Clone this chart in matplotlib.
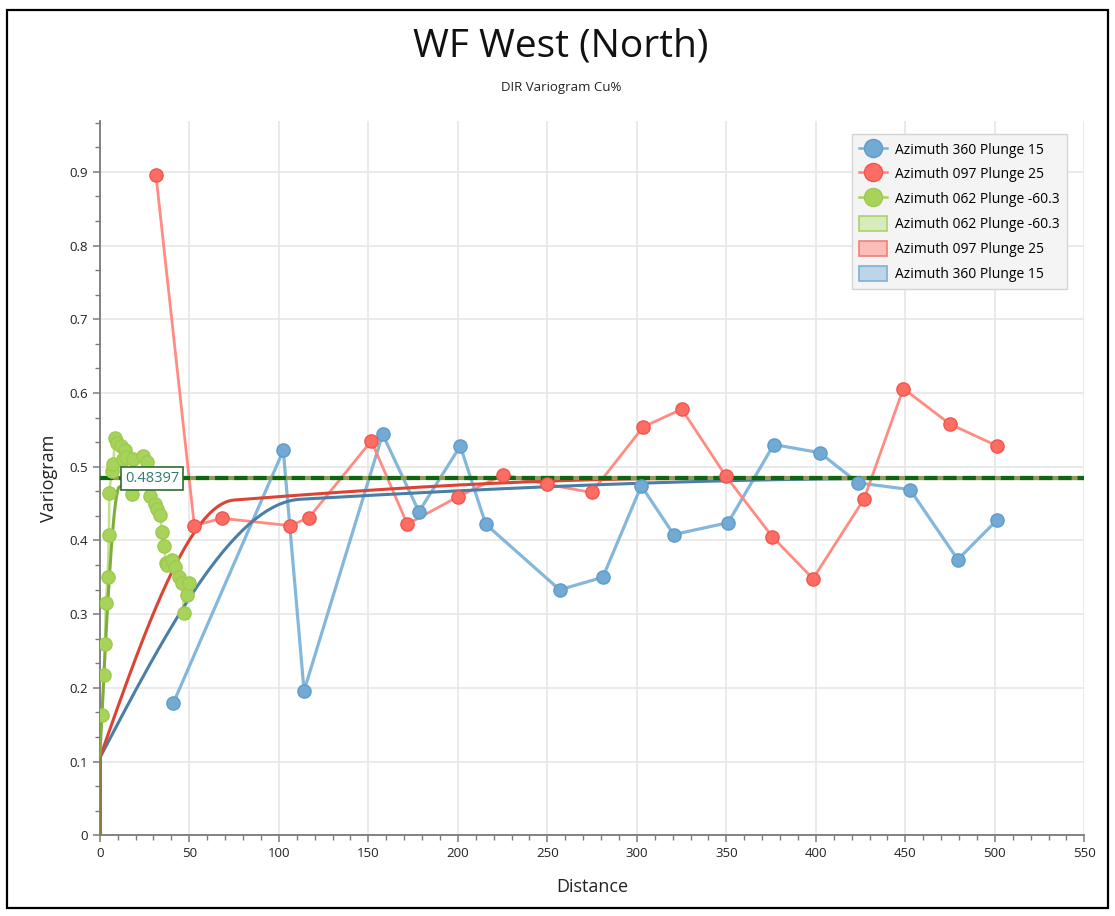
import numpy as np
import matplotlib
matplotlib.use("Agg")
import matplotlib.pyplot as plt
from matplotlib.ticker import MultipleLocator
from matplotlib.lines import Line2D
from matplotlib.patches import Patch, Rectangle

plt.rcParams['font.family'] = ['Open Sans', 'DejaVu Sans']

# Experimental variogram points: Azimuth 360 Plunge 15
az360_lag = [41.0, 102.5, 114.1, 158.0, 178.3, 201.4, 215.6, 256.9, 281.0, 302.5,
             320.6, 351.0, 376.5, 402.2, 423.6, 452.6, 479.3, 501.4]
az360_gam = [0.179, 0.522, 0.196, 0.544, 0.439, 0.528, 0.422, 0.333, 0.350, 0.474,
             0.408, 0.424, 0.530, 0.519, 0.478, 0.469, 0.374, 0.428]

# Experimental variogram points: Azimuth 097 Plunge 25
az097_lag = [31.4, 52.8, 68.1, 106.3, 116.9, 151.7, 171.8, 199.9, 225.4, 249.7,
             274.8, 303.6, 325.1, 349.8, 375.7, 398.4, 426.9, 448.9, 474.8, 501.4]
az097_gam = [0.895, 0.420, 0.430, 0.420, 0.431, 0.535, 0.422, 0.459, 0.489, 0.476,
             0.465, 0.554, 0.578, 0.487, 0.405, 0.348, 0.456, 0.606, 0.558, 0.528]

# Experimental variogram points: Azimuth 062 Plunge -60.3
az062_lag = [1.4, 2.3, 2.9, 3.3, 4.4, 5.1, 5.3, 6.6, 7.5, 8.5, 9.4, 11.7, 13.0,
             14.1, 14.6, 17.8, 18.7, 24.3, 26.2, 28.0, 30.8, 31.8, 33.6, 34.9,
             36.0, 36.8, 37.4, 40.5, 42.0, 44.2, 45.7, 47.2, 48.5, 49.8]
az062_gam = [0.163, 0.217, 0.260, 0.315, 0.350, 0.407, 0.464, 0.494, 0.503, 0.539,
             0.532, 0.528, 0.510, 0.523, 0.513, 0.463, 0.510, 0.514, 0.507, 0.460,
             0.449, 0.442, 0.435, 0.412, 0.392, 0.370, 0.367, 0.374, 0.364, 0.351,
             0.342, 0.302, 0.326, 0.342]

# Fitted models: nugget plus nested spherical structures (sill, range)
nugget = 0.105
sill_total = 0.48397
model_062 = [(0.36, 11.0), (0.01897, 40.0)]
model_097 = [(0.335, 75.0), (0.04397, 330.0)]
model_360 = [(0.3346, 112.0), (0.04437, 450.0)]

series_names = ["Azimuth 360 Plunge 15", "Azimuth 097 Plunge 25", "Azimuth 062 Plunge -60.3"]


def spherical(h, structures):
    g = np.full_like(h, nugget)
    for c, a in structures:
        r = np.clip(h / a, 0, 1)
        g += c * (1.5 * r - 0.5 * r ** 3)
    g[h == 0] = 0.0
    return g


fig = plt.figure(figsize=(11.15, 9.16), dpi=100)
ax = fig.add_axes([0.0895, 0.0881, 0.8830, 0.7799])

# outer frame
fig.patches.append(Rectangle((0.0063, 0.0087), 0.9874, 0.980, transform=fig.transFigure,
                             fill=False, edgecolor='black', linewidth=1.6, zorder=10))

h = np.concatenate([[0.0], np.linspace(0.001, 550, 2000)])

blue_pt, blue_edge, blue_ln, blue_model = '#72aad4', '#5e9ccb', '#7db3da', '#4a7ea6'
red_pt, red_edge, red_ln, red_model = '#fd6d64', '#f2544b', '#ff857c', '#dc4335'
green_pt, green_edge, green_model = '#a7d35a', '#9ccb4d', '#7fad3c'

# experimental series
ax.plot(az360_lag, az360_gam, '-', color=blue_ln, lw=2.3, alpha=0.95, zorder=3)
ax.plot(az360_lag, az360_gam, 'o', ms=9.5, mfc=blue_pt, mec=blue_edge, mew=1.0, zorder=6)
ax.plot(az097_lag, az097_gam, '-', color=red_ln, lw=2.0, alpha=0.95, zorder=3)
ax.plot(az097_lag, az097_gam, 'o', ms=9.5, mfc=red_pt, mec=red_edge, mew=1.0, zorder=6)
ax.plot(az062_lag, az062_gam, '-', color=green_pt, lw=1.8, alpha=0.7, zorder=3)
ax.plot(az062_lag, az062_gam, 'o', ms=9.5, mfc=green_pt, mec=green_edge, mew=1.0, zorder=6)

# model curves
ax.plot(h, spherical(h, model_360), color=blue_model, lw=2.2, zorder=4)
ax.plot(h, spherical(h, model_097), color=red_model, lw=2.2, zorder=4)
ax.plot(h, spherical(h, model_062), color=green_model, lw=2.2, zorder=4.5)
ax.plot([0, 0], [0, nugget], color='#8c7d3c', lw=2.2, zorder=5)

# sill line, drawn above the model curves
ax.axhline(sill_total, color='#939a58', lw=3.0, zorder=5.2)
ax.axhline(sill_total, color='#0e6612', lw=3.0, ls=(0, (3.2, 1.4)), zorder=5.3)
ax.text(14.0, sill_total, f"{sill_total:.5f}", fontsize=10.5, color='#2f7d6a',
        va='center', ha='left', zorder=8,
        bbox=dict(boxstyle='square,pad=0.25', fc='white', ec='#2d6e2d', lw=1.2))

ax.set_xlim(0, 550)
ax.set_ylim(0, 0.969)
ax.xaxis.set_major_locator(MultipleLocator(50))
ax.xaxis.set_minor_locator(MultipleLocator(10))
ax.yaxis.set_major_locator(MultipleLocator(0.1))
ax.yaxis.set_minor_locator(MultipleLocator(0.1 / 3))
ax.set_yticks(np.arange(0, 0.95, 0.1))
ax.set_yticklabels(['0'] + [f"{v:.1f}" for v in np.arange(0.1, 0.95, 0.1)])

ax.grid(True, which='major', color='#e6e6e6', lw=1.2, zorder=0)
ax.set_axisbelow(True)
for s in ['top', 'right']:
    ax.spines[s].set_visible(False)
for s in ['left', 'bottom']:
    ax.spines[s].set_color('#7a7a7a')
    ax.spines[s].set_linewidth(1.3)
ax.tick_params(which='major', length=5, width=1.1, color='#7a7a7a', labelsize=9.5,
               labelcolor='#222222')
ax.tick_params(which='minor', length=3.5, width=1.0, color='#7a7a7a')

ax.set_xlabel("Distance", fontsize=13, color='#222222', labelpad=13)
ax.set_ylabel("Variogram", fontsize=13, color='#222222', labelpad=8)

fig.text(0.503, 0.949, "WF West (North)", fontsize=28, ha='center', va='center', color='#111111')
fig.text(0.503, 0.905, "DIR Variogram Cu%", fontsize=9.5, ha='center', va='center', color='#222222')

handles = [
    Line2D([], [], color=blue_ln, lw=1.8, marker='o', ms=13, mfc=blue_pt, mec=blue_edge),
    Line2D([], [], color=red_ln, lw=1.8, marker='o', ms=13, mfc=red_pt, mec=red_edge),
    Line2D([], [], color=green_pt, lw=1.8, marker='o', ms=13, mfc=green_pt, mec=green_edge),
    Patch(fc='#d7ebbc', ec='#a9d36a', lw=1.2),
    Patch(fc='#fcbdb8', ec='#f08078', lw=1.2),
    Patch(fc='#bcd5e8', ec='#7fb0d6', lw=1.2),
]
labels = [series_names[0], series_names[1], series_names[2],
          series_names[2], series_names[1], series_names[0]]
leg = ax.legend(handles, labels, loc='upper left', bbox_to_anchor=(0.764, 0.981),
                borderaxespad=0.0, fontsize=10, frameon=True, fancybox=False, framealpha=1,
                facecolor='#f4f4f4', edgecolor='#d4d4d4', handlelength=2.0,
                handleheight=1.3, labelspacing=0.62, borderpad=0.5, handletextpad=0.6)
leg.get_frame().set_linewidth(1.0)
leg.set_zorder(9)

fig.savefig("out.png", dpi=100)
